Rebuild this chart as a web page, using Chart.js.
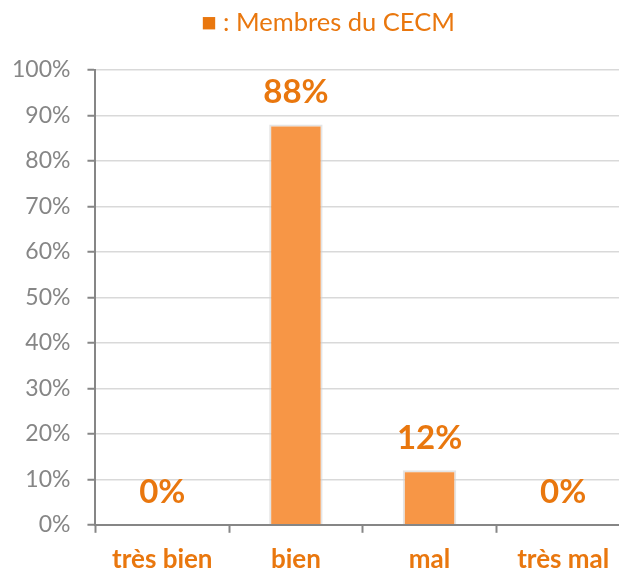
<!DOCTYPE html>
<html>
<head>
<meta charset="utf-8">
<script src="https://cdn.jsdelivr.net/npm/chart.js@4"></script>
<style>
  html, body { margin: 0; padding: 0; background: #fff; overflow: hidden; }
  #wrap { position: absolute; left: 0; top: 0; width: 640px; height: 569px; }
</style>
</head>
<body>
<div id="wrap"><canvas id="chart"></canvas></div>
<script>
var categories = ["très bien", "bien", "mal", "très mal"]
var membres = [0, 88, 12, 0]
var yTicks = [0, 10, 20, 30, 40, 50, 60, 70, 80, 90, 100]
var titre = "■ : Membres du CECM"

var orange = "#F79646"
var textOrange = "#E9770E"
var gray = "#868686"

// labels au-dessus des barres + titre/légende
var valueLabels = {
  id: "valueLabels",
  afterDatasetsDraw: function (chart) {
    var ctx = chart.ctx
    var meta = chart.getDatasetMeta(0)
    ctx.save()
    ctx.fillStyle = textOrange
    ctx.font = "bold 33px Lato"
    ctx.textAlign = "center"
    ctx.textBaseline = "middle"
    meta.data.forEach(function (bar, i) {
      ctx.fillText(membres[i] + "%", bar.x, bar.y - 32)
    })
    ctx.font = "25.5px Lato"
    ctx.fillText(titre, 328, 23)
    ctx.restore()
  },
}

var ctx = document.getElementById("chart").getContext("2d")
var myChart = new Chart(ctx, {
  type: "bar",
  data: {
    labels: categories,
    datasets: [
      {
        label: "Membres du CECM",
        data: membres,
        backgroundColor: orange,
        borderColor: "rgba(210,210,210,0.6)",
        borderWidth: 2,
        borderSkipped: "bottom",
        barPercentage: 0.4,
        categoryPercentage: 1,
      },
    ],
  },
  options: {
    responsive: true,
    maintainAspectRatio: false,
    animation: false,
    layout: {
      padding: { left: -5, right: 10, top: 70, bottom: -17 },
    },
    plugins: {
      legend: { display: false },
      tooltip: { enabled: false },
      title: { display: false },
    },
    scales: {
      x: {
        grid: {
          display: true,
          drawOnChartArea: false,
          tickLength: 8,
          tickColor: gray,
          tickWidth: 2,
          offset: true,
        },
        border: { color: gray, width: 2 },
        ticks: {
          color: textOrange,
          font: { size: 26, family: "Lato", weight: "bold" },
          padding: 11,
        },
      },
      y: {
        min: 0,
        max: 100,
        afterBuildTicks: function (axis) {
          axis.ticks = yTicks.map(function (v) { return { value: v } })
        },
        grid: {
          color: "#d9d9d9",
          lineWidth: 1.5,
          tickLength: 8,
          tickColor: gray,
          tickWidth: 2,
        },
        border: { color: gray, width: 2 },
        ticks: {
          color: gray,
          font: { size: 23, family: "Lato" },
          padding: 17,
          callback: function (v) { return v + "%" },
        },
      },
    },
  },
  plugins: [valueLabels],
})
</script>
</body>
</html>
